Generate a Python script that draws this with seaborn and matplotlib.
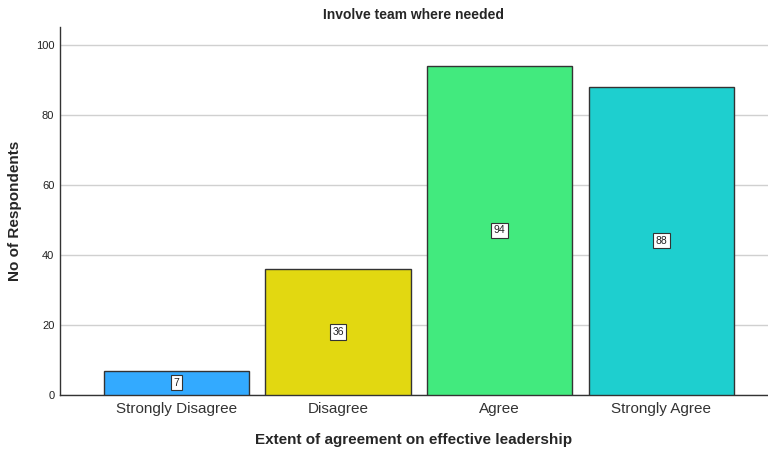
import pandas as pd
import seaborn as sns
import matplotlib.pyplot as plt

categories = ['Strongly Disagree', 'Disagree', 'Agree', 'Strongly Agree']
counts = [7, 36, 94, 88]
colors = ['#33aaff', '#e2d811', '#42ea7e', '#1ecfcf']

df = pd.DataFrame({'cat': categories, 'n': counts})

sns.set_style('white')
plt.rcParams['font.family'] = ['Liberation Sans', 'DejaVu Sans']

fig = plt.figure(figsize=(7.68, 4.51), dpi=100)
ax = fig.add_axes([0.078, 0.124, 0.922, 0.816])

sns.barplot(data=df, x='cat', y='n', hue='cat', palette=colors, legend=False,
            width=0.9, edgecolor='#333333', linewidth=1, saturation=1, ax=ax, zorder=3)

for i, v in enumerate(counts):
    ax.text(i, v / 2, str(v), ha='center', va='center', fontsize=7.5, color='#222222',
            bbox=dict(boxstyle='square,pad=0.25', fc='white', ec='#333333', lw=0.8), zorder=5)

ax.set_ylim(0, 105)
ax.set_xlim(-0.72, 3.66)
ax.set_yticks([0, 20, 40, 60, 80, 100])
ax.yaxis.grid(True, color='#d0d0d0', lw=1, zorder=0)
ax.set_axisbelow(True)
ax.tick_params(axis='y', labelsize=8, length=0, pad=4, labelcolor='#222222')
ax.tick_params(axis='x', labelsize=11, length=0, pad=5, labelcolor='#333333')

for s in ['top', 'right']:
    ax.spines[s].set_visible(False)
for s in ['left', 'bottom']:
    ax.spines[s].set_color('#333333')
    ax.spines[s].set_linewidth(1)

ax.set_xlabel('Extent of agreement on effective leadership', fontsize=11, fontweight='bold', labelpad=12)
ax.set_ylabel('No of Respondents', fontsize=11, fontweight='bold', labelpad=10)
ax.set_title('Involve team where needed', fontsize=10, fontweight='bold', pad=6)

fig.savefig('out.png', dpi=100)
